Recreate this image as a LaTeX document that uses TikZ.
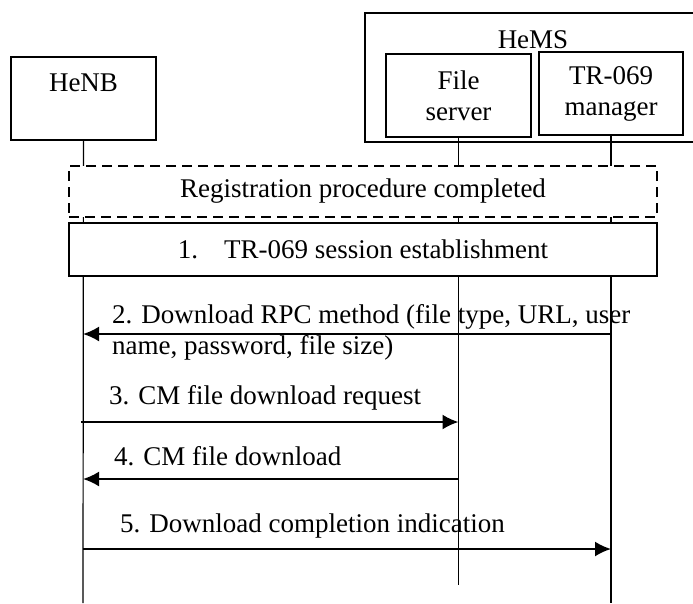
\documentclass[tikz,border=0pt]{standalone}
\usepackage{fontspec}
\setmainfont{Liberation Serif}
\usepackage{tikz}
\usetikzlibrary{positioning, calc, arrows.meta}
\tikzstyle{Msg} = [
%Message arrow style:
line width=2pt,
-{Latex[length=16pt,width=15pt]}
]

\begin{document}
\begin{tikzpicture}[x=1pt, y=-1pt,
			entity/.style = {rectangle, draw, fill=white, line width=1.2pt, align=center, minimum width=145pt, minimum height=83pt},
			phase/.style = {rectangle, draw, fill=white, line width=1.2pt, minimum width=588pt},
			lifeline/.style = {line width=1.2pt},
			msglabel/.style = {anchor=west, inner sep=0pt, align=left},
			font=\fontsize{27}{31}\selectfont
		]
		\useasboundingbox (0,0) rectangle (693,603);

		\node[entity, minimum width=355pt, minimum height=129pt](HeMS) at (542.5,77.5){};
		\node(HeMSname) at (533,40){HeMS};
		\node[entity](HeNB) at (83.5,98.5){HeNB\\~};
		\node[entity](FS) at (458.5,95.5){File\\server};
		\node[entity, minimum width=144pt](MGR) at (611,93.5){TR-069\\manager};

		\coordinate(HeNBend) at (83,603);
		\coordinate(FSend) at (458.5,585);
		\coordinate(MGRend) at (611,603);

		\draw[lifeline](HeNB)--(HeNBend);
		\draw[lifeline](FS)--(FSend);
		\draw[lifeline](MGR)--(MGRend);

		\node[phase, dashed, dash pattern=on 10pt off 6pt, minimum height=51pt](REG) at (363,191.5){Registration procedure completed};
		\node[phase, minimum height=53pt](SES) at (363,249.5){1.\hspace*{26pt}TR-069 session establishment};

		% messages
		\coordinate(M2a) at (611,334);
		\coordinate(M2b) at (83,334);
		\coordinate(M3a) at (81,422);
		\coordinate(M3b) at (458.5,422);
		\coordinate(M4a) at (458.5,479);
		\coordinate(M4b) at (83,479);
		\coordinate(M5a) at (83,549);
		\coordinate(M5b) at (611,549);

		\draw[Msg](M2a)--(M2b);
		\draw[Msg](M3a)--(M3b);
		\draw[Msg](M4a)--(M4b);
		\draw[Msg](M5a)--(M5b);

		\node[msglabel](L2) at (112,332.5){2. Download RPC method (file type, URL, user\\name, password, file size)};
		\node[msglabel](L3) at (109,398){3. CM file download request};
		\node[msglabel](L4) at (114,456){4. CM file download};
		\node[msglabel](L5) at (120,526){5. Download completion indication};

	\end{tikzpicture}
\end{document}
